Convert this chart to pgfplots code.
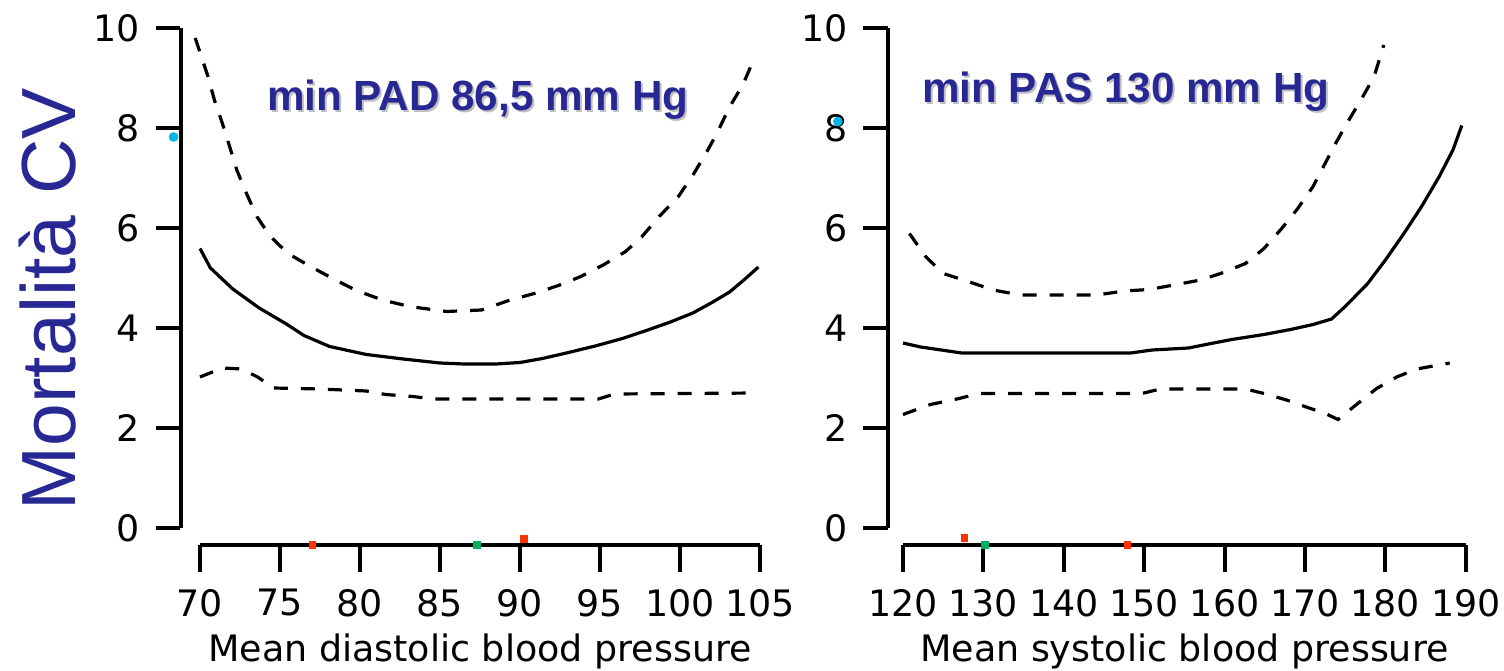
\documentclass[border=0pt]{standalone}
\usepackage{fontspec}
\usepackage{pgfplots}
\pgfplotsset{compat=1.18}
\newfontfamily\dejavu{DejaVu Sans}
\newfontfamily\arial{Liberation Sans}
\definecolor{txtblue}{RGB}{40,40,148}
\definecolor{rugred}{RGB}{255,50,0}
\definecolor{ruggreen}{RGB}{0,176,96}
\definecolor{blobcyan}{RGB}{0,180,230}
\pgfplotsset{
  raxis/.style={
    clip=false,
    axis line style={-, line width=2pt, black},
    tick align=outside, major tick length=13pt,
    tick style={draw=none},
    /pgf/number format/assume math mode=true,
    ticklabel style={font=\dejavu\fontsize{18.2}{20}\selectfont},
    label style={font=\dejavu\fontsize{18.2}{20}\selectfont},
  },
  xonly/.style={
    axis x line*=bottom, hide y axis, raxis,
    y=1pt, ymin=0, ymax=1,
    xticklabel style={inner sep=0pt, yshift=-9pt},
    xlabel style={at={(axis description cs:0.5,0)}, anchor=base, yshift=-58pt, inner sep=0pt},
  },
  yonly/.style={
    axis y line*=left, hide x axis, raxis,
    x=1pt, xmin=0, xmax=1,
    y=25pt, ymin=0, ymax=10,
    ytick={0,2,...,10},
    yticklabel style={inner sep=0pt, xshift=-7pt},
  },
  data/.style={hide axis, clip=false, y=25pt, ymin=0, ymax=10},
  tk/.style={black, line width=2pt, solid, mark=none, forget plot},
  est/.style={black, line width=1.6pt, solid},
  ci/.style={black, line width=1.6pt, dash pattern=on 7pt off 6.5pt},
}
\begin{document}
\begin{tikzpicture}
\useasboundingbox (0,0) rectangle (752pt,335pt);
% ================= left panel =================
\begin{axis}[yonly, at={(90.25pt,71pt)}, anchor=south west]
\end{axis}
\begin{axis}[xonly, at={(100pt,62.5pt)}, anchor=south west,
  x=8pt, xmin=70, xmax=105, xtick={70,75,...,105},
  xlabel={Mean diastolic blood pressure}]
\end{axis}
\begin{axis}[data, at={(100pt,71pt)}, anchor=south west,
  x=8pt, xmin=70, xmax=105]
% tick marks of the detached axes
\pgfplotsinvokeforeach{70,75,80,85,90,95,100,105}{
  \addplot[tk] coordinates {(#1,-0.34) (#1,-0.88)};}
\pgfplotsinvokeforeach{0,2,4,6,8,10}{
  \addplot[tk] coordinates {(68.78,#1) (67.22,#1)};}
\addplot[ci] coordinates {
(69.7,9.8) (70.5,9.03) (70.9,8.56) (71.4,8.09) (71.85,7.63) (72.3,7.16)
(72.85,6.73) (73.55,6.23) (74.4,5.83) (75.5,5.49) (76.9,5.23) (78.3,4.99)
(79.7,4.76) (81.4,4.56) (83.1,4.43) (85.4,4.33) (87.6,4.36) (89.3,4.55)
(91.0,4.70) (92.4,4.85) (93.8,5.03) (95.2,5.26) (96.6,5.53) (97.6,5.82)
(98.7,6.23) (99.9,6.63) (100.85,7.08) (101.6,7.48) (102.3,7.89) (103.1,8.42)
(103.95,8.88) (104.7,9.44)};
\addplot[est] coordinates {
(70.0,5.59) (70.65,5.2) (72.05,4.78) (73.7,4.40) (75.4,4.08) (76.5,3.85)
(78.1,3.63) (80.4,3.47) (82.7,3.38) (85.0,3.30) (86.5,3.28) (88.5,3.28)
(90.0,3.31) (91.4,3.39) (92.9,3.50) (94.7,3.64) (96.4,3.79) (97.9,3.95)
(99.4,4.12) (100.8,4.30) (102.0,4.51) (103.1,4.72) (104.1,4.99) (104.9,5.22)};
\addplot[ci] coordinates {
(70.0,3.02) (71.4,3.2) (72.6,3.18) (73.6,3.02) (74.6,2.80) (77.5,2.78)
(80.4,2.74) (81.6,2.67) (83.3,2.63) (84.6,2.58) (94.9,2.58) (95.9,2.68)
(104.8,2.70)};
\addplot[only marks, mark=square*, mark size=1.6pt, rugred] coordinates {(77.04,-0.34) (90.25,-0.22)};
\addplot[only marks, mark=square*, mark size=1.6pt, ruggreen] coordinates {(87.31,-0.34)};
\addplot[only marks, mark=*, mark size=2.2pt, blobcyan] coordinates {(68.35,7.82)};
\end{axis}
% ================= right panel =================
\begin{axis}[yonly, at={(444pt,71pt)}, anchor=south west]
\end{axis}
\begin{axis}[xonly, at={(451.5pt,62.5pt)}, anchor=south west,
  x=4.02pt, xmin=120, xmax=190, xtick={120,130,...,190},
  xlabel={Mean systolic blood pressure}]
\end{axis}
\begin{axis}[data, at={(451.5pt,71pt)}, anchor=south west,
  x=4.02pt, xmin=120, xmax=190]
\pgfplotsinvokeforeach{120,130,140,150,160,170,180,190}{
  \addplot[tk] coordinates {(#1,-0.34) (#1,-0.88)};}
\pgfplotsinvokeforeach{0,2,4,6,8,10}{
  \addplot[tk] coordinates {(118.13,#1) (115.02,#1)};}
\addplot[ci] coordinates {
(120.8,5.89) (122.8,5.43) (125.0,5.09) (128.1,4.93) (131.2,4.76) (134.6,4.66)
(144.1,4.66) (147.5,4.74) (150.6,4.77) (153.7,4.86) (157.0,4.96) (159.5,5.09)
(162.6,5.29) (164.9,5.59) (167.1,5.99) (169.1,6.39) (171.0,6.83) (172.4,7.26)
(173.8,7.69) (175.2,8.09) (177.2,8.63) (178.6,9.03) (179.8,9.66)};
\addplot[est] coordinates {
(120.0,3.70) (122.2,3.62) (127.3,3.50) (148.3,3.50) (151.0,3.56) (155.5,3.60)
(158.0,3.68) (160.9,3.77) (164.9,3.87) (168.2,3.97) (171.0,4.07) (173.3,4.18)
(175.0,4.43) (177.8,4.89) (180.0,5.36) (182.3,5.89) (184.5,6.43) (186.7,7.03)
(188.4,7.56) (189.5,8.05)};
\addplot[ci] coordinates {
(120.0,2.27) (123.4,2.47) (126.7,2.58) (129.5,2.69) (149.7,2.69) (152.0,2.78)
(162.6,2.78) (164.9,2.69) (167.7,2.56) (170.5,2.40) (172.4,2.30) (174.1,2.17)
(176.1,2.43) (178.9,2.79) (181.4,3.02) (183.9,3.18) (188.0,3.30)};
\addplot[only marks, mark=square*, mark size=1.6pt, rugred] coordinates {(127.6,-0.2) (147.9,-0.34)};
\addplot[only marks, mark=square*, mark size=1.6pt, ruggreen] coordinates {(130.2,-0.34)};
\addplot[only marks, mark=*, mark size=2.2pt, blobcyan] coordinates {(111.9,8.13)};
\end{axis}
% ================= texts =================
\node[rotate=90, anchor=base, text=txtblue, inner sep=0pt,
      font=\arial\fontsize{38.4}{40}\selectfont] at (37.5pt,185.5pt) {Mortalità CV};
\node[anchor=base west, inner sep=0pt, text=black!25,
      font=\arial\bfseries\fontsize{21.1}{24}\selectfont] at (134.3pt,278.65pt) {min PAD 86,5 mm Hg};
\node[anchor=base west, inner sep=0pt, text=txtblue,
      font=\arial\bfseries\fontsize{21.1}{24}\selectfont] at (133.3pt,279.65pt) {min PAD 86,5 mm Hg};
\node[anchor=base west, inner sep=0pt, text=black!25,
      font=\arial\bfseries\fontsize{21.1}{24}\selectfont] at (461.9pt,282.75pt) {min PAS 130 mm Hg};
\node[anchor=base west, inner sep=0pt, text=txtblue,
      font=\arial\bfseries\fontsize{21.1}{24}\selectfont] at (460.9pt,283.75pt) {min PAS 130 mm Hg};
\end{tikzpicture}
\end{document}
